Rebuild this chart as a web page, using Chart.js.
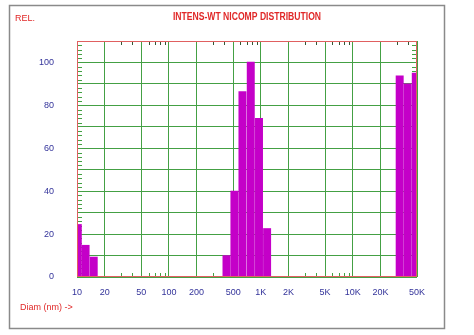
<!DOCTYPE html>
<html lang="en"><head>
<meta charset="UTF-8">
<title>Intens-WT Nicomp Distribution</title>
<script src="https://cdn.jsdelivr.net/npm/chart.js"></script>
<style>
  body { margin: 0; background: #fff; }
  canvas { display: block; }
</style>
</head>
<body>
<canvas id="chart" width="474" height="335"></canvas>
<script>
  // diameters (nm) of each bin and relative intensity
  const diameters = [10.2, 12.4, 15.2, 423, 516, 631, 777, 955, 1170, 32400, 39600, 48500];
  const intensity = [24.5, 14.8, 9.3, 10, 40, 86.4, 100.2, 74, 22.6, 93.8, 90, 95];

  const xTicks = [10, 20, 50, 100, 200, 500, 1000, 2000, 5000, 10000, 20000, 50000];
  const xTickLabels = ['10', '20', '50', '100', '200', '500', '1K', '2K', '5K', '10K', '20K', '50K'];
  const minorMultiples = [3, 4, 6, 7, 8, 9];
  const decades = [10, 100, 1000, 10000];

  const RED = '#e02828';
  const BLUE = '#33339a';
  const GREEN = '#44a044';

  const decorations = {
    id: 'decorations',
    beforeDatasetsDraw(chart) {
      const { ctx, chartArea: a, scales: { x, y } } = chart;
      ctx.save();
      ctx.lineWidth = 1;
      // y minor ticks every 2 units, both sides
      ctx.strokeStyle = GREEN;
      for (let v = 2; v < 110; v += 2) {
        if (v % 10 === 0) continue;
        const py = Math.round(y.getPixelForValue(v)) + 0.5;
        ctx.beginPath();
        ctx.moveTo(a.left, py); ctx.lineTo(a.left + 5, py);
        ctx.moveTo(a.right, py); ctx.lineTo(a.right - 5, py);
        ctx.stroke();
      }
      // x minor ticks top and bottom
      decades.forEach(d => {
        minorMultiples.forEach(m => {
          const v = d * m;
          if (v > 50000) return;
          const px = Math.round(x.getPixelForValue(v)) + 0.5;
          ctx.strokeStyle = '#335533';
          ctx.beginPath();
          ctx.moveTo(px, a.top); ctx.lineTo(px, a.top + 4);
          ctx.stroke();
          ctx.strokeStyle = GREEN;
          ctx.beginPath();
          ctx.moveTo(px, a.bottom); ctx.lineTo(px, a.bottom - 4);
          ctx.stroke();
        });
      });
      ctx.restore();
    },
    afterDatasetsDraw(chart) {
      const { ctx, chartArea: a } = chart;
      ctx.save();
      ctx.strokeStyle = '#e06060';
      ctx.lineWidth = 1;
      ctx.strokeRect(a.left + 0.5, a.top + 0.5, a.right - a.left - 1, a.bottom - a.top - 1);
      ctx.restore();
    },
    afterDraw(chart) {
      const { ctx } = chart;
      ctx.save();
      ctx.strokeStyle = '#8a8a8a';
      ctx.lineWidth = 1.5;
      ctx.strokeRect(9.5, 5.5, 435, 323);
      ctx.fillStyle = RED;
      ctx.textBaseline = 'middle';
      ctx.font = '9px "Liberation Sans", Arial, sans-serif';
      ctx.textAlign = 'left';
      ctx.fillText('REL.', 15, 19);
      ctx.fillText('Diam (nm) ->', 20, 308);
      // condensed bold title
      ctx.font = 'bold 10px "Liberation Sans", Arial, sans-serif';
      ctx.textAlign = 'center';
      ctx.translate(247, 17);
      ctx.scale(0.86, 1);
      ctx.fillText('INTENS-WT NICOMP DISTRIBUTION', 0, 0);
      ctx.restore();
    }
  };

  new Chart(document.getElementById('chart'), {
    type: 'bar',
    data: {
      datasets: [{
        data: diameters.map((d, i) => ({ x: d, y: intensity[i] })),
        backgroundColor: '#c400c8',
        borderWidth: 0,
        barThickness: 7.3
      }]
    },
    options: {
      responsive: false,
      devicePixelRatio: 1,
      animation: false,
      layout: { padding: { top: 41, right: 57, left: 0, bottom: 0 } },
      plugins: {
        legend: { display: false },
        title: { display: false },
        tooltip: { enabled: false }
      },
      scales: {
        x: {
          type: 'logarithmic',
          min: 10,
          max: 50000,
          offset: false,
          afterBuildTicks: scale => { scale.ticks = xTicks.map(v => ({ value: v })); },
          afterFit: scale => { scale.height = 58; },
          grid: { color: GREEN, lineWidth: 1, drawTicks: false, offset: false },
          border: { display: false },
          ticks: {
            autoSkip: false,
            maxRotation: 0,
            padding: 10,
            color: BLUE,
            font: { family: '"Liberation Sans", Arial, sans-serif', size: 9 },
            callback: (v, i) => xTickLabels[i]
          }
        },
        y: {
          min: 0,
          max: 110,
          afterFit: scale => { scale.width = 77; },
          grid: { color: GREEN, lineWidth: 1, drawTicks: false },
          border: { display: false },
          ticks: {
            stepSize: 10,
            padding: 23,
            color: BLUE,
            font: { family: '"Liberation Sans", Arial, sans-serif', size: 9 },
            callback: v => (v % 20 === 0 ? String(v) : '')
          }
        }
      }
    },
    plugins: [decorations]
  });
</script>
</body></html>
